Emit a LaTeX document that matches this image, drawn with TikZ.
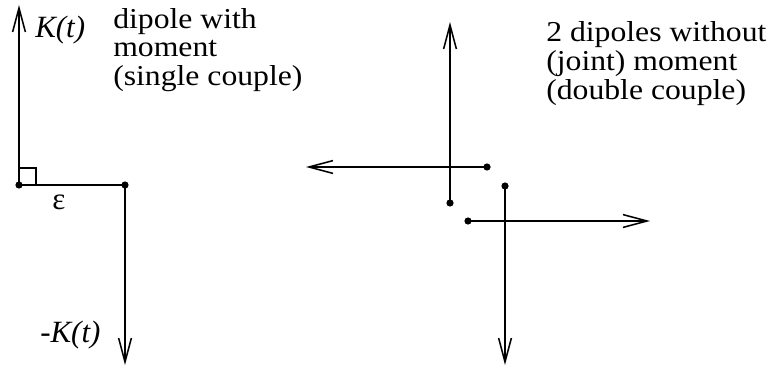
\documentclass[tikz,border=0pt]{standalone}
\usepackage{fontspec}
\setmainfont{Liberation Serif}
\newfontfamily\widefont[FakeStretch=1.1]{Liberation Serif}
\usetikzlibrary{arrows.meta,positioning}

\begin{document}
\begin{tikzpicture}
    \tikzset{dot/.style={circle,fill=black,inner sep=0pt,minimum size=0.18cm},
      force/.style={line width=1.1pt,-{Straight Barb[length=0.6cm,width=0.32cm]}},
      lbl/.style={inner sep=0pt,align=left,font=\widefont\fontsize{20.5}{20.4}\selectfont}}
    \useasboundingbox (0,0) rectangle (19.25,9.175);
    % single couple
    \node[dot] (a) at (0.475,4.55) {};
    \node[dot] (b) at (3.125,4.55) {};
    \coordinate (atip) at (0.475,9.05);
    \coordinate (btip) at (3.125,0.05);
    \draw[force] (a.center) -- (atip);
    \draw[force] (b.center) -- (btip);
    \draw[line width=1.1pt] (a.center) -- (b.center);
    \draw[line width=0.9pt] ([yshift=0.425cm]a.center) -| ([xshift=0.425cm]a.center);
    \node[lbl,anchor=base west,font=\fontsize{22}{20.3}\selectfont\itshape] (kt) at (0.875,8.225) {K(t)};
    \node[lbl,anchor=base west,font=\fontsize{22}{20.3}\selectfont\itshape] (mkt) at (1.0,0.625) {-K(t)};
    \node[lbl,anchor=base west,font=\fontsize{22}{20.3}\selectfont] (eps) at (1.3,3.925) {ε};
    \node[lbl,anchor=north west] (single) at (2.825,8.98) {dipole with\\moment\\(single couple)};
    % double couple
    \node[dot] (c) at (11.25,4.1) {};
    \node[dot] (d) at (12.175,5.0) {};
    \node[dot] (e) at (12.625,4.525) {};
    \node[dot] (f) at (11.7,3.65) {};
    \coordinate (ctip) at (11.25,8.625);
    \coordinate (dtip) at (7.65,5.0);
    \coordinate (etip) at (12.625,0.05);
    \coordinate (ftip) at (16.25,3.65);
    \draw[force] (c.center) -- (ctip);
    \draw[force] (d.center) -- (dtip);
    \draw[force] (e.center) -- (etip);
    \draw[force] (f.center) -- (ftip);
    \node[lbl,anchor=north west] (double) at (13.65,8.64) {2 dipoles without\\(joint) moment\\(double couple)};
\end{tikzpicture}
\end{document}
